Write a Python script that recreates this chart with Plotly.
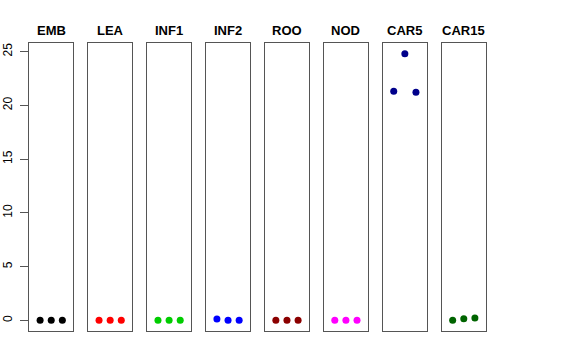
import plotly.graph_objects as go

tissues = ["EMB", "LEA", "INF1", "INF2", "ROO", "NOD", "CAR5", "CAR15"]
values = [
    [0.0, 0.0, 0.0],
    [0.0, 0.0, 0.0],
    [0.0, 0.0, 0.0],
    [0.12, 0.0, 0.0],
    [0.0, 0.0, 0.0],
    [0.0, 0.0, 0.0],
    [21.3, 24.8, 21.2],
    [0.0, 0.15, 0.22],
]
colors = ["#000000", "#FF0000", "#00CD00", "#0000FF", "#8B0000", "#FF00FF", "#00008B", "#006400"]
reps = [1, 2, 3]
yticks = [0, 5, 10, 15, 20, 25]

W, H = 576, 360
L, R, T, B = 29, 576 - 487.5, 43, 360 - 331
PW = W - L - R
PH = H - T - B
fig = go.Figure()
pw, step = 44.5, 59.0
for i, (t, v, c) in enumerate(zip(tissues, values, colors)):
    n = i + 1
    xa = "x" if n == 1 else f"x{n}"
    ya = "y" if n == 1 else f"y{n}"
    fig.add_trace(go.Scatter(x=reps, y=v, mode="markers", xaxis=xa, yaxis=ya,
                             marker=dict(color=c, size=7), showlegend=False,
                             hoverinfo="y"))
    x0 = (i * step) / PW
    x1 = min(1.0, (i * step + pw) / PW)
    xkey = "xaxis" if n == 1 else f"xaxis{n}"
    ykey = "yaxis" if n == 1 else f"yaxis{n}"
    fig.layout[xkey] = dict(domain=[x0, x1], range=[0, 4], showticklabels=False,
                            ticks="", showgrid=False, zeroline=False, automargin=False,
                            showline=True, mirror=True, linecolor="#555555", linewidth=1,
                            anchor=ya, fixedrange=True)
    ydict = dict(domain=[0, 1], range=[-0.99, 25.79], automargin=False,
                 showgrid=False, zeroline=False, showline=True, mirror=True,
                 linecolor="#555555", linewidth=1, anchor=xa, fixedrange=True)
    if n == 1:
        ydict.update(tickvals=yticks, ticks="outside", ticklen=8, tickcolor="#555555",
                     tickangle=-90, ticklabelstandoff=3,
                     tickfont=dict(family="Liberation Sans, Arial", size=12, color="#000"))
    else:
        ydict.update(showticklabels=False, ticks="")
    fig.layout[ykey] = ydict
    fig.add_annotation(x=(x0 + x1) / 2, y=1 + (T - 30.5) / PH, xref="paper", yref="paper",
                       xanchor="center", yanchor="middle",
                       text=f"<b>{t}</b>", showarrow=False,
                       font=dict(family="Liberation Sans, Arial", size=13, color="#000"))

fig.update_layout(width=W, height=H, margin=dict(l=L, r=R, t=T, b=B, autoexpand=False),
                  paper_bgcolor="white", plot_bgcolor="white")
fig.write_html("out.html", config={"displayModeBar": False, "staticPlot": True},
               post_script="document.body.style.margin='0';")
